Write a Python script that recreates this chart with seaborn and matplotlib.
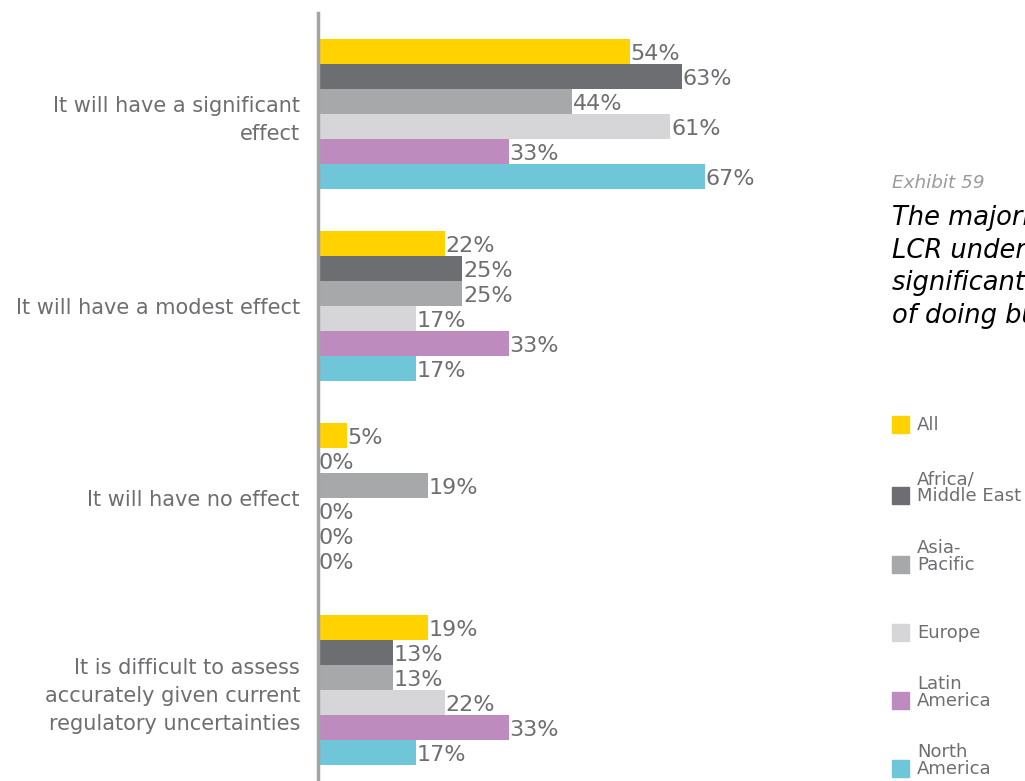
import pandas as pd
import seaborn as sns
import matplotlib.pyplot as plt
from matplotlib.patches import Rectangle

# answers and regions
categories = ['It will have a significant\neffect',
              'It will have a modest effect',
              'It will have no effect',
              'It is difficult to assess\naccurately given current\nregulatory uncertainties']
regions = ['All', 'Africa/\nMiddle East', 'Asia-\nPacific', 'Europe', 'Latin\nAmerica', 'North\nAmerica']

all_vals = [54, 22, 5, 19]
africa_me = [63, 25, 0, 13]
asia_pac = [44, 25, 19, 13]
europe = [61, 17, 0, 22]
latin_am = [33, 33, 0, 33]
north_am = [67, 17, 0, 17]

colors = ['#ffd200', '#6d6e71', '#a7a8aa', '#d6d6d8', '#bd8bbd', '#6ec6d8']
text_grey = '#6d6e71'

series = [all_vals, africa_me, asia_pac, europe, latin_am, north_am]
rows = []
for reg, vals in zip(regions, series):
    for cat, v in zip(categories, vals):
        rows.append({'category': cat, 'region': reg, 'value': v})
df = pd.DataFrame(rows)

sns.set_style('white')
plt.rcParams['font.family'] = ['DejaVu Sans']

fig = plt.figure(figsize=(10.25, 7.81), dpi=100)
ax = fig.add_axes([318 / 1025, 0, 542 / 1025, 1 - 13 / 781])

sns.barplot(data=df, y='category', x='value', hue='region', order=categories,
            hue_order=regions, palette=colors, width=0.78, orient='h',
            saturation=1, linewidth=0, legend=False, ax=ax)

# value labels just past the bar ends
for cont in ax.containers:
    for b in cont:
        w = b.get_width()
        ax.annotate(f'{int(w)}%', (w, b.get_y() + b.get_height() / 2),
                    xytext=(0.5, -2), textcoords='offset points',
                    va='center', ha='left', color=text_grey, fontsize=16)

ax.set_xlim(0, 67 * 542 / 387)
ax.set_ylim(3.474, -0.526)
ax.set_xlabel('')
ax.set_ylabel('')
ax.set_xticks([])
ax.tick_params(axis='y', length=0, pad=13, labelsize=15, labelcolor=text_grey)
for lab in ax.get_yticklabels():
    lab.set_horizontalalignment('right')
    lab.set_multialignment('right')
    lab.set_linespacing(1.5)
for s in ['top', 'right', 'bottom']:
    ax.spines[s].set_visible(False)
ax.spines['left'].set_color('#a5a5a5')
ax.spines['left'].set_linewidth(2.5)

# side note (cut off by the right edge, as in the original page)
fig.text(892 / 1025, 1 - 183 / 781, 'Exhibit 59', fontsize=13.2, style='italic',
         color='#9a9a9a', va='center')
fig.text(892 / 1025, 1 - 205 / 781,
         'The majority of banks expect the\nLCR under Basel III to have a\n'
         'significant effect on their cost\nof doing business',
         fontsize=18.5, style='italic', color='black', va='top', linespacing=1.33)

# legend
leg_y = [424, 495, 564, 632, 700, 768]
for reg, col, yy in zip(regions, colors, leg_y):
    fig.patches.append(Rectangle((892 / 1025, 1 - (yy + 8.5) / 781), 17 / 1025, 17 / 781,
                                 transform=fig.transFigure, color=col))
    nl = reg.count('\n')
    fig.text(917 / 1025, 1 - (yy + 1 - 8.5 * nl) / 781, reg, fontsize=13,
             color=text_grey, va='center', linespacing=0.92)

plt.savefig('out.png', dpi=100)
plt.close()
